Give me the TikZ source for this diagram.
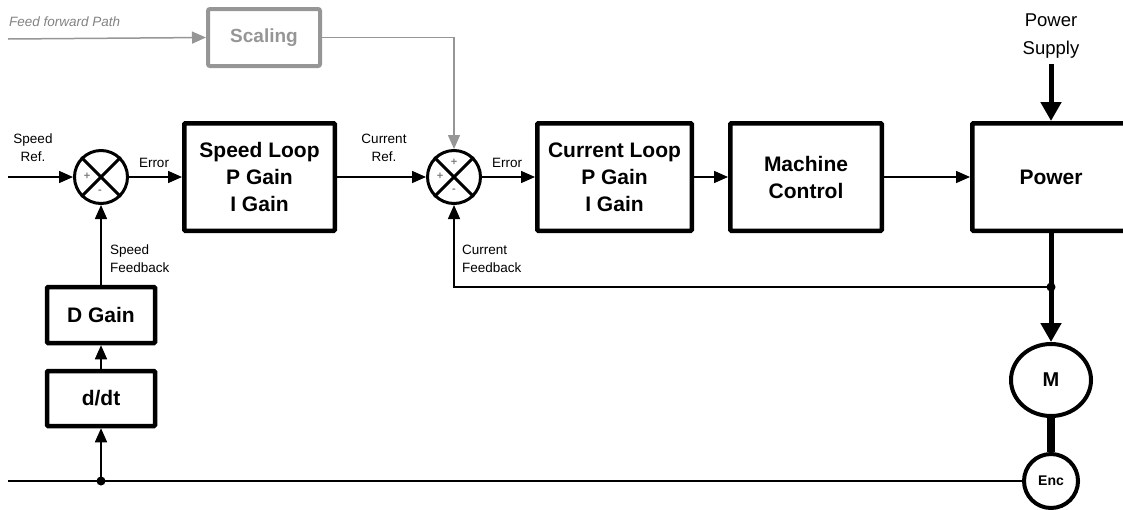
\documentclass[tikz,border=0pt]{standalone}
\usepackage{fontspec}
\setmainfont{Liberation Sans}
\usetikzlibrary{arrows.meta,calc,shapes.geometric}
\definecolor{ffgray}{RGB}{150,150,150}
\definecolor{fftext}{RGB}{130,130,130}
\begin{document}
\begin{tikzpicture}[x=1pt,y=-1pt,
 blk/.style={draw,line width=4.5pt,inner sep=0pt,align=center,rounded corners=1pt,font=\fontsize{21}{27}\selectfont\bfseries},
 lbl/.style={font=\fontsize{13.5}{18}\selectfont,inner sep=0pt,align=center},
 lbll/.style={lbl,align=left,anchor=west},
 sig/.style={line width=1.5pt},
 arr/.style={-{Triangle[length=14pt,width=12pt]}},
 bigarr/.style={line width=5pt,-{Triangle[length=19pt,width=20pt]}},
 sumj/.style={draw,circle,line width=3pt,minimum size=53pt,inner sep=0pt},
 sgn/.style={font=\fontsize{11}{11}\selectfont\bfseries,text=gray,inner sep=0pt},
 dotc/.style={fill,circle,inner sep=0pt,minimum size=9pt}
]
\useasboundingbox (0,0) rectangle (1123,509);

% feed forward
\node[draw=ffgray,line width=4pt,rounded corners=2pt,minimum width=112pt,minimum height=57pt,inner sep=0pt,text=ffgray,font=\fontsize{19}{22}\selectfont\bfseries] (scal) at (264,37.5) {Scaling};
\node[lbl,anchor=west,text=fftext,font=\fontsize{13.5}{16}\selectfont\itshape] (fftxt) at (9,22) {Feed forward Path};
\coordinate (ffs) at (8,39);

% main blocks
\node[blk,minimum width=150.5pt,minimum height=107.5pt] (speed) at (259.5,177) {Speed Loop\\P Gain\\I Gain};
\node[blk,minimum width=154.5pt,minimum height=107.5pt] (cur) at (614.5,177) {Current Loop\\P Gain\\I Gain};
\node[blk,minimum width=151.5pt,minimum height=107.5pt] (mach) at (806,177) {Machine\\Control};
\node[blk,minimum width=157.5pt,minimum height=107.5pt] (pow) at (1051,177) {Power};

\node[blk,minimum width=108pt,minimum height=56pt] (dgain) at (101,315) {D Gain};
\node[blk,minimum width=108pt,minimum height=55pt] (ddt) at (101,398.5) {d/dt};

% summing junctions
\node[sumj] (s1) at (101,177) {};
\draw[line width=3pt] (s1.north east) -- (s1.south west) (s1.north west) -- (s1.south east);
\node[sgn] at (87,176) {+};
\node[sgn] at (100,192) {-};

\node[sumj] (s2) at (454,177) {};
\draw[line width=3pt] (s2.north east) -- (s2.south west) (s2.north west) -- (s2.south east);
\node[sgn] at (454,162) {+};
\node[sgn] at (440,176) {+};
\node[sgn] at (454,191) {-};

% motor and encoder
\node[draw,ellipse,line width=4pt,minimum width=80pt,minimum height=72pt,inner sep=0pt,font=\fontsize{20}{22}\selectfont\bfseries] (mot) at (1051,380) {M};
\node[draw,circle,line width=4pt,minimum size=54pt,inner sep=0pt,font=\fontsize{14}{16}\selectfont\bfseries] (enc) at (1051,481) {Enc};

% power supply
\node[lbl,font=\fontsize{18.5}{28}\selectfont] (pstxt) at (1051,36) {Power\\Supply};
\coordinate (pss) at (1051,64);

% labels
\node[lbl] (lsref) at (33,148) {Speed\\Ref.};
\node[lbl] (lerr1) at (154,163) {Error};
\node[lbl] (lcref) at (384,148) {Current\\Ref.};
\node[lbl] (lerr2) at (507,163) {Error};
\node[lbll] (lsfb) at (110,259) {Speed\\Feedback};
\node[lbll] (lcfb) at (462,259) {Current\\Feedback};

% coordinates
\coordinate (sref) at (8,177);
\coordinate (bstart) at (8,481);
\node[dotc] (bdot) at (101,481) {};
\node[dotc] (fdot) at (1051,287) {};

% connectors
\draw[sig,ffgray,arr] (ffs) -- (scal.west);
\draw[sig,ffgray,arr] (scal.east) -| (s2.north);

\draw[sig,arr] (sref) -- (s1.west);
\draw[sig,arr] (s1.east) -- (speed.west);
\draw[sig,arr] (speed.east) -- (s2.west);
\draw[sig,arr] (s2.east) -- (cur.west);
\draw[sig,arr] (cur.east) -- (mach.west);
\draw[sig,arr] (mach.east) -- (pow.west);

\draw[bigarr] (pss) -- (pow.north);
\draw[line width=5pt] (pow.south) -- (fdot.center);
\draw[bigarr] (fdot.center) -- (mot.north);
\draw[line width=8pt] (mot.south) -- (enc.north);

\draw[sig,arr] (fdot.center) -| (s2.south);

\draw[sig] (bstart) -- (enc.west);
\draw[sig,arr] (bdot.center) -- (ddt.south);
\draw[sig,arr] (ddt.north) -- (dgain.south);
\draw[sig,arr] (dgain.north) -- (s1.south);
\end{tikzpicture}
\end{document}
